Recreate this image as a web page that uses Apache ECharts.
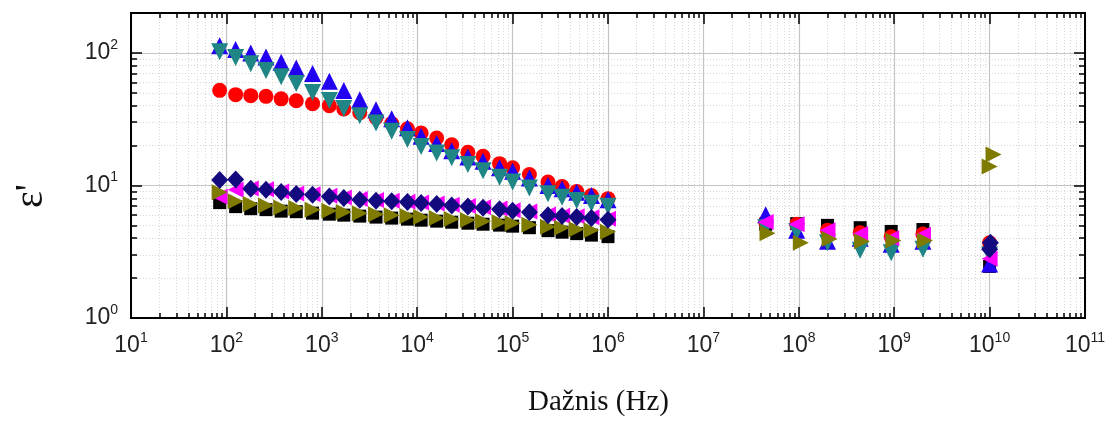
<!DOCTYPE html>
<html>
<head>
<meta charset="utf-8">
<script src="https://cdn.jsdelivr.net/npm/echarts@6/dist/echarts.min.js"></script>
<style>
    html, body { margin: 0; padding: 0; background: #fff; }
    #chart { width: 1110px; height: 422px; }
</style>
</head>
<body>
<div id="chart"></div>
<script>
// frequencies (Hz)
var freqLow = [85, 125, 180, 260, 375, 540, 800, 1200, 1700, 2500, 3700, 5400, 7900, 11000, 16000, 23000,
    34000, 49000, 73000, 100000, 150000, 235000, 330000, 470000, 670000, 1000000];
var freqHigh = [4.5e7, 9.5e7, 2.0e8, 4.4e8, 9.3e8, 2.0e9, 1.0e10];

// eps' low frequency part
var blackLow = [7.42, 6.92, 6.68, 6.57, 6.40, 6.34, 6.18, 6.07, 5.97, 5.87, 5.77, 5.67, 5.57, 5.47, 5.38, 5.28,
    5.19, 5.10, 5.02, 4.93, 4.80, 4.56, 4.44, 4.33, 4.22, 4.11];
var redLow = [52.2, 48.4, 47.6, 47.0, 45.0, 43.6, 41.4, 40.0, 37.8, 35.4, 32.5, 29.3, 26.8, 24.9, 22.8, 20.3,
    17.8, 16.6, 14.6, 13.6, 12.1, 10.6, 9.8, 9.0, 8.4, 7.95];
var blueLow = [113, 106, 100, 93, 85, 77, 70, 61, 52, 44.4, 37.3, 31.8, 27.2, 23.5, 20.7, 18.3,
    16.4, 15.2, 13.6, 12.8, 11.4, 9.97, 9.46, 8.9, 8.4, 7.8];
var tealLow = [102, 92.2, 83.0, 73.5, 66.2, 58.7, 50.2, 43.7, 38.0, 33.6, 29.6, 25.6, 22.2, 19.7, 17.6, 16.2,
    14.4, 12.9, 11.55, 10.6, 9.57, 8.67, 8.16, 7.70, 7.35, 6.98];
var magentaLow = [8.2, 9.3, 9.5, 9.35, 9.0, 8.7, 8.6, 8.35, 8.1, 7.9, 7.75, 7.65, 7.55, 7.45, 7.3, 7.15,
    7.0, 6.85, 6.7, 6.5, 6.35, 6.05, 5.9, 5.85, 5.75, 5.6];
var oliveLow = [8.9, 7.59, 7.25, 7.07, 6.83, 6.77, 6.57, 6.45, 6.31, 6.16, 6.07, 5.97, 5.87, 5.77, 5.68, 5.59,
    5.49, 5.38, 5.28, 5.19, 5.06, 4.89, 4.80, 4.68, 4.60, 4.48];
var navyLow = [11.0, 11.1, 9.46, 9.30, 8.93, 8.63, 8.52, 8.27, 8.05, 7.81, 7.68, 7.59, 7.51, 7.38, 7.25, 7.07,
    6.95, 6.80, 6.62, 6.45, 6.29, 5.97, 5.87, 5.78, 5.68, 5.52];

// eps' high frequency part
var blackHigh = [5.1, 5.15, 5.0, 4.8, 4.5, 4.65, 2.45];
var redHigh = [5.3, 5.1, 4.6, 4.4, 4.1, 4.3, 3.7];
var blueHigh = [6.0, 4.6, 3.8, 4.0, 3.6, 3.8, 2.55];
var tealHigh = [4.8, 4.5, 3.7, 3.25, 3.1, 3.3, 3.0];
var magentaHigh = [5.3, 5.1, 4.6, 4.3, 4.0, 4.25, 2.8];
var oliveFreqHigh = [4.7e7, 1.05e8, 2.1e8, 4.6e8, 9.8e8, 2.1e9, 1.0e10, 1.1e10];
var oliveHigh = [4.35, 3.7, 3.95, 3.8, 3.85, 3.85, 13.9, 17.1];
var navyFreqHigh = [1.0e10, 1.02e10];
var navyHigh = [3.3, 3.7];

// axis ticks
var xMajor = [1e1, 1e2, 1e3, 1e4, 1e5, 1e6, 1e7, 1e8, 1e9, 1e10, 1e11];
var yMajor = [1, 10, 100];

function minorTicks(from, to) {
    var out = [];
    for (var p = from; p < to; p++) {
        for (var k = 2; k <= 9; k++) out.push(k * Math.pow(10, p));
    }
    return out;
}
var xMinor = minorTicks(1, 11);
var yMinor = minorTicks(0, 2);

function pairs(xs, ys) {
    var out = [];
    for (var i = 0; i < xs.length; i++) {
        if (ys[i] != null) out.push([xs[i], ys[i]]);
    }
    return out;
}

function powLabel(v) {
    var e = Math.round(Math.log(v) / Math.LN10);
    return '{b|10}{s|' + e + '}';
}

var labelRich = {
    b: { fontSize: 23, fontFamily: 'Liberation Sans', color: '#222', lineHeight: 30 },
    s: { fontSize: 14, fontFamily: 'Liberation Sans', color: '#222', verticalAlign: 'top', lineHeight: 14 }
};

var axisLineStyle = { show: true, onZero: false, lineStyle: { color: '#000', width: 2 } };

function xAxisDef(pos, ticks, len, withLabel, split) {
    return {
        type: 'log', gridIndex: 0, position: pos, min: 10, max: 1e11, logBase: 10,
        axisLine: axisLineStyle,
        axisTick: { show: true, inside: true, length: len, customValues: ticks, lineStyle: { color: '#000', width: 1.5 } },
        axisLabel: withLabel ? {
            show: true, customValues: ticks, margin: 13, formatter: powLabel, rich: labelRich
        } : { show: false },
        splitLine: split || { show: false },
        minorTick: { show: false }, minorSplitLine: { show: false }
    };
}

function yAxisDef(pos, ticks, len, withLabel, split) {
    return {
        type: 'log', gridIndex: 0, position: pos, min: 1, max: 200, logBase: 10,
        axisLine: axisLineStyle,
        axisTick: { show: true, inside: true, length: len, customValues: ticks, lineStyle: { color: '#000', width: 1.5 } },
        axisLabel: withLabel ? {
            show: true, customValues: ticks, margin: 13, formatter: powLabel, rich: labelRich
        } : { show: false },
        splitLine: split || { show: false },
        minorTick: { show: false }, minorSplitLine: { show: false }
    };
}

var majorGrid = { show: true, lineStyle: { color: '#c4c4c4', width: 1.2, type: 'solid' } };
var minorGrid = { show: true, lineStyle: { color: '#d6d6d6', width: 1, type: [1, 2] } };

function scatter(name, data, symbol, size, color, rotate) {
    return {
        name: name, type: 'scatter', xAxisIndex: 0, yAxisIndex: 0,
        data: data, symbol: symbol, symbolSize: size, symbolRotate: rotate || 0,
        itemStyle: { color: color, opacity: 1 },
        emphasis: { disabled: true }
    };
}

var myChart = echarts.init(document.getElementById('chart'), null, { renderer: 'canvas' });

var option = {
    backgroundColor: '#fff',
    animation: false,
    grid: { left: 131, right: 25, top: 13, bottom: 104, containLabel: false },
    xAxis: [
        xAxisDef('bottom', xMajor, 11, true, majorGrid),
        xAxisDef('bottom', xMinor, 5, false, minorGrid),
        xAxisDef('top', xMajor, 11, false),
        xAxisDef('top', xMinor, 5, false)
    ],
    yAxis: [
        yAxisDef('left', yMajor, 11, true, majorGrid),
        yAxisDef('left', yMinor, 6, false, minorGrid),
        yAxisDef('right', yMajor, 11, false),
        yAxisDef('right', yMinor, 6, false)
    ],
    graphic: [
        {
            type: 'text', left: 608 - 80, top: 388,
            style: { text: 'Dažnis (Hz)', font: '29px "Liberation Serif"', fill: '#111', width: 160, align: 'center' }
        },
        {
            type: 'text', x: 11, y: 208, rotation: Math.PI / 2,
            style: { text: "ε'", font: '40px "Liberation Serif"', fill: '#111' }
        }
    ],
    series: [
        scatter('black', pairs(freqLow.concat(freqHigh), blackLow.concat(blackHigh)), 'rect', 13, '#000000'),
        scatter('red', pairs(freqLow.concat(freqHigh), redLow.concat(redHigh)), 'circle', 15, '#ff0000'),
        scatter('blue', pairs(freqLow.concat(freqHigh), blueLow.concat(blueHigh)), 'triangle', 17, '#2200f0'),
        scatter('teal', pairs(freqLow.concat(freqHigh), tealLow.concat(tealHigh)), 'triangle', 17, '#1f8585', 180),
        scatter('magenta', pairs(freqLow.concat(freqHigh), magentaLow.concat(magentaHigh)), 'triangle', 16, '#ff00ff', 90),
        scatter('olive', pairs(freqLow.concat(oliveFreqHigh), oliveLow.concat(oliveHigh)), 'triangle', 16, '#7f7a00', -90),
        scatter('navy', pairs(freqLow.concat(navyFreqHigh), navyLow.concat(navyHigh)), 'diamond', [17, 18], '#140a80')
    ]
};

myChart.setOption(option);
</script>
</body>
</html>
